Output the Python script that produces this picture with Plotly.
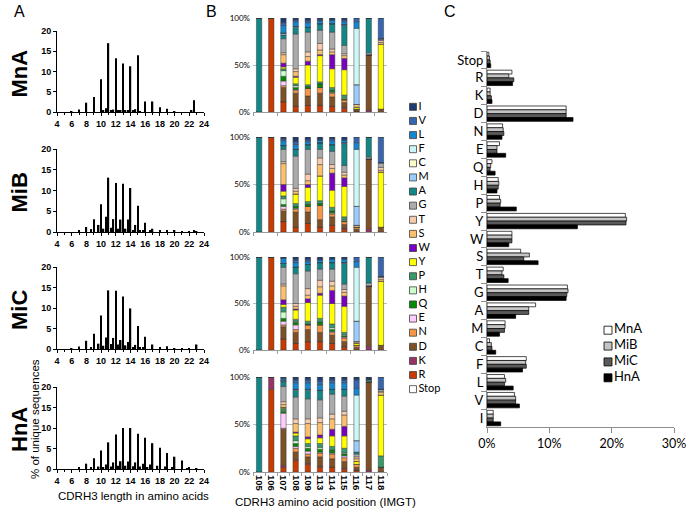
import numpy as np
import plotly.graph_objects as go

W, H = 689, 510
def px(x): return x / W
def py(y): return 1 - y / H

# ---------------- Panel A data: CDRH3 length distributions ----------------
MnA_len = [6, 7, 8, 9, 10, 10.33, 10.67, 11, 11.33, 11.67, 12, 12.33, 12.67, 13, 13.33, 13.67,
           14, 14.33, 14.67, 15, 15.33, 16, 17, 18, 19, 20, 22.33, 22.67]
MnA_pct = [0.2, 0.6, 2.3, 3.7, 8.1, 0.3, 0.9, 17.0, 0.4, 0.6, 13.3, 0.3, 0.4, 12.0, 0.3, 0.4,
           11.3, 0.3, 0.7, 14.0, 0.2, 2.6, 2.6, 1.2, 0.8, 0.2, 0.3, 2.9]
MiB_len = [7, 8, 8.67, 9, 9.67, 10, 10.33, 10.67, 11, 11.33, 11.67, 12, 12.33, 12.67, 13, 13.33, 13.67,
           14, 14.33, 14.67, 15, 15.33, 15.67, 16, 16.67, 17, 18, 19, 20, 21, 22, 22.67, 23]
MiB_pct = [0.5, 1.2, 0.7, 3.1, 1.7, 6.7, 0.8, 3.7, 13.1, 1.0, 3.1, 11.8, 0.8, 3.0, 11.6, 0.8, 3.0,
           10.6, 0.5, 1.7, 6.3, 0.3, 0.5, 2.2, 0.3, 0.8, 0.3, 0.5, 0.3, 0.2, 0.2, 0.5, 0.2]
MiC_len = [6, 7, 8, 8.67, 9, 9.67, 10, 10.33, 10.67, 11, 11.33, 11.67, 12, 12.33, 12.67, 13, 13.33, 13.67,
           14, 14.33, 14.67, 15, 15.33, 15.67, 16, 17, 18, 19, 20, 21, 22, 23]
MiC_pct = [0.2, 0.6, 2.0, 0.3, 3.7, 1.3, 8.2, 0.8, 2.8, 14.3, 1.2, 2.7, 14.2, 1.1, 2.2, 12.8, 0.9, 1.7,
           9.9, 0.5, 1.0, 5.6, 0.3, 0.4, 3.0, 1.1, 0.5, 0.7, 0.2, 0.1, 0.2, 1.1]
HnA_len = [7, 8, 8.67, 9, 9.67, 10, 10.33, 10.67, 11, 11.33, 11.67, 12, 12.33, 12.67, 13, 13.33, 13.67,
           14, 14.33, 14.67, 15, 15.33, 15.67, 16, 16.33, 16.67, 17, 17.67, 18, 18.67, 19, 19.67,
           20, 21, 21.67, 22, 23]
HnA_pct = [0.4, 1.3, 0.3, 2.6, 0.6, 4.5, 0.4, 1.1, 6.5, 0.6, 1.6, 8.4, 0.8, 1.9, 10.0, 0.8, 1.8,
           10.0, 0.7, 1.6, 8.6, 0.6, 1.3, 7.6, 0.5, 1.1, 6.3, 0.8, 5.2, 0.6, 3.9, 0.3,
           3.0, 2.1, 0.2, 0.3, 0.1]

datasets = ["MnA", "MiB", "MiC", "HnA"]
length_data = {"MnA": (MnA_len, MnA_pct), "MiB": (MiB_len, MiB_pct),
               "MiC": (MiC_len, MiC_pct), "HnA": (HnA_len, HnA_pct)}
len_ticks = [4, 6, 8, 10, 12, 14, 16, 18, 20, 22, 24]

# ---------------- Panel B data: amino acid composition per IMGT position ----------------
positions = ["105", "106", "107", "108", "109", "113", "114", "115", "116", "117", "118"]
aa_legend = ["I", "V", "L", "F", "C", "M", "A", "G", "T", "S", "W", "Y", "P", "H", "Q", "E", "N", "D", "K", "R", "Stop"]
aa_colors = {"I": "#203B70", "V": "#3766B0", "L": "#1487D0", "F": "#CCF7F7", "C": "#FFFCCC",
             "M": "#99CCFF", "A": "#138787", "G": "#ABABAB", "T": "#F8CBAD", "S": "#FAC06E",
             "W": "#7A00C0", "Y": "#FFFF00", "P": "#379A68", "H": "#CCFFCC", "Q": "#008C00",
             "E": "#FFCCFF", "N": "#F79646", "D": "#7D5026", "K": "#993366", "R": "#C83A00",
             "Stop": "#FFFFFF"}

comp_MnA = {
    "I": [0, 0, 5, 2, 3, 2, 2, 2, 0, 0, 0],
    "V": [0, 0, 3, 2, 2, 1, 0, 2, 4, 0, 22],
    "L": [0, 0, 8, 5, 5, 3, 4, 3, 7, 0, 0],
    "F": [0, 0, 0, 0, 0, 0, 0, 0, 60, 0, 0],
    "M": [0, 0, 2, 1, 0, 0, 0, 1, 21, 0, 0],
    "A": [100, 0, 4, 7, 5, 7, 9, 21, 0, 37, 0],
    "G": [0, 0, 15, 37, 21, 14, 18, 9, 0, 2, 2],
    "T": [0, 0, 2, 3, 5, 7, 3, 2, 0, 0, 2],
    "S": [0, 0, 9, 5, 5, 5, 3, 3, 3, 0, 2],
    "W": [0, 0, 4, 1, 4, 1, 15, 12, 0, 0, 0],
    "Y": [0, 0, 2, 7, 21, 28, 20, 27, 2, 0, 69],
    "P": [0, 0, 2, 2, 2, 2, 3, 3, 0, 0, 0],
    "H": [0, 0, 6, 2, 0, 0, 0, 1, 0, 0, 0],
    "Q": [0, 0, 5, 2, 2, 4, 2, 1, 0, 0, 0],
    "E": [0, 0, 5, 1, 0, 0, 1, 0, 0, 0, 0],
    "N": [0, 0, 2, 3, 8, 6, 4, 3, 0, 0, 0],
    "D": [0, 0, 15, 14, 10, 13, 10, 5, 2, 59, 3],
    "K": [0, 0, 0, 0, 0, 0, 0, 1, 0, 2, 0],
    "R": [0, 100, 11, 6, 7, 7, 6, 4, 1, 0, 0],
}
comp_MiB = {
    "I": [0, 0, 2, 5, 3, 3, 2, 3, 0, 0, 0],
    "V": [0, 0, 2, 3, 2, 0, 2, 0, 6, 0, 27],
    "L": [0, 0, 5, 5, 3, 3, 4, 3, 7, 0, 0],
    "F": [0, 0, 0, 0, 0, 0, 0, 0, 60, 0, 0],
    "M": [0, 0, 0, 0, 0, 0, 0, 1, 20, 0, 0],
    "A": [100, 0, 4, 7, 5, 7, 7, 23, 0, 21, 0],
    "G": [0, 0, 13, 34, 26, 9, 14, 7, 0, 2, 5],
    "T": [0, 0, 2, 3, 7, 7, 4, 3, 0, 0, 3],
    "S": [0, 0, 22, 3, 4, 12, 5, 3, 2, 0, 2],
    "W": [0, 0, 7, 0, 3, 0, 18, 9, 0, 0, 0],
    "Y": [0, 0, 5, 10, 15, 26, 18, 32, 0, 0, 58],
    "P": [0, 0, 3, 3, 3, 3, 4, 3, 0, 0, 0],
    "H": [0, 0, 6, 0, 0, 0, 0, 1, 0, 0, 0],
    "Q": [0, 0, 2, 2, 2, 2, 2, 1, 0, 0, 0],
    "E": [0, 0, 3, 1, 0, 0, 1, 0, 0, 0, 0],
    "N": [0, 0, 2, 3, 6, 15, 3, 3, 2, 0, 0],
    "D": [0, 0, 11, 16, 12, 8, 9, 4, 3, 74, 5],
    "K": [0, 0, 0, 0, 0, 0, 0, 1, 0, 3, 0],
    "R": [0, 100, 11, 5, 9, 5, 7, 3, 0, 0, 0],
}
comp_MiC = {
    "I": [0, 0, 1, 3, 3, 3, 2, 2, 0, 0, 0],
    "V": [0, 0, 0, 3, 2, 0, 0, 0, 5, 0, 21],
    "L": [0, 0, 6, 5, 3, 3, 4, 4, 6, 0, 0],
    "F": [0, 0, 0, 0, 0, 0, 0, 0, 58, 0, 0],
    "M": [0, 0, 0, 0, 0, 0, 0, 1, 22, 0, 0],
    "A": [100, 0, 4, 7, 7, 7, 7, 22, 0, 28, 0],
    "G": [0, 0, 18, 32, 19, 12, 13, 6, 0, 3, 1],
    "T": [0, 0, 2, 3, 7, 7, 5, 3, 0, 0, 2],
    "S": [0, 0, 15, 3, 4, 7, 5, 4, 2, 0, 2],
    "W": [0, 0, 5, 1, 4, 2, 14, 11, 0, 0, 0],
    "Y": [0, 0, 3, 10, 20, 25, 22, 28, 2, 0, 69],
    "P": [0, 0, 5, 2, 3, 4, 4, 3, 0, 0, 0],
    "H": [0, 0, 7, 1, 0, 0, 2, 1, 0, 0, 0],
    "Q": [0, 0, 3, 3, 1, 3, 2, 1, 0, 0, 0],
    "E": [0, 0, 4, 5, 0, 0, 1, 1, 0, 0, 0],
    "N": [0, 0, 2, 3, 5, 8, 3, 4, 2, 0, 0],
    "D": [0, 0, 13, 12, 13, 10, 9, 5, 3, 65, 5],
    "K": [0, 0, 0, 0, 0, 0, 0, 1, 0, 4, 0],
    "R": [0, 100, 12, 7, 9, 9, 7, 3, 0, 0, 0],
}
comp_HnA = {
    "I": [0, 0, 1, 3, 3, 4, 3, 3, 3, 2, 0],
    "V": [0, 0, 1, 3, 3, 4, 3, 3, 9, 0, 13],
    "L": [0, 0, 2, 7, 7, 6, 7, 7, 7, 0, 0],
    "F": [0, 0, 0, 0, 0, 0, 0, 0, 48, 0, 0],
    "M": [0, 0, 1, 1, 1, 0, 0, 0, 12, 0, 0],
    "A": [100, 0, 5, 7, 9, 10, 5, 7, 2, 2, 0],
    "G": [0, 0, 16, 23, 21, 19, 21, 16, 3, 1, 2],
    "T": [0, 0, 3, 5, 5, 5, 5, 4, 2, 0, 1],
    "S": [0, 0, 3, 9, 14, 13, 11, 12, 3, 0, 3],
    "W": [0, 0, 0, 1, 2, 3, 7, 10, 0, 0, 0],
    "Y": [0, 0, 1, 3, 5, 6, 11, 13, 3, 0, 64],
    "P": [0, 0, 2, 5, 3, 4, 4, 5, 0, 0, 12],
    "H": [0, 0, 1, 3, 2, 2, 0, 1, 0, 0, 0],
    "Q": [0, 0, 2, 3, 3, 3, 3, 2, 0, 0, 0],
    "E": [0, 0, 16, 2, 3, 1, 1, 2, 0, 0, 0],
    "N": [0, 0, 1, 4, 3, 4, 5, 4, 3, 0, 0],
    "D": [0, 0, 38, 8, 7, 10, 9, 7, 3, 93, 5],
    "K": [0, 13, 2, 1, 1, 1, 0, 1, 0, 2, 0],
    "R": [0, 87, 5, 12, 8, 5, 5, 3, 2, 0, 0],
}
composition = {"MnA": comp_MnA, "MiB": comp_MiB, "MiC": comp_MiC, "HnA": comp_HnA}

# ---------------- Panel C data: overall amino acid usage (%) ----------------
aa_c = ["Stop", "R", "K", "D", "N", "E", "Q", "H", "P", "Y", "W", "S", "T", "G", "A", "M", "C", "F", "L", "V", "I"]
usage_MnA = [0.3, 4.0, 0.5, 12.7, 2.5, 2.0, 0.8, 1.8, 2.0, 22.2, 4.0, 5.4, 2.6, 12.9, 7.8, 2.9, 0.4, 6.3, 2.8, 4.4, 1.0]
usage_MiB = [0.4, 3.5, 0.5, 12.7, 2.6, 1.6, 0.6, 1.9, 2.2, 22.4, 4.0, 6.8, 2.4, 13.0, 6.7, 2.9, 0.7, 6.2, 3.0, 4.6, 1.0]
usage_MiC = [0.5, 4.3, 0.7, 12.7, 2.7, 1.6, 0.5, 1.8, 2.1, 22.3, 4.0, 5.9, 2.7, 12.8, 6.7, 2.8, 0.8, 6.3, 2.8, 4.6, 1.0]
usage_HnA = [0.6, 4.1, 0.8, 13.8, 2.4, 3.0, 1.3, 1.6, 4.7, 14.5, 3.5, 8.2, 3.4, 12.7, 4.6, 2.0, 1.4, 5.7, 4.2, 5.2, 2.2]
usage = {"MnA": usage_MnA, "MiB": usage_MiB, "MiC": usage_MiC, "HnA": usage_HnA}
usage_colors = {"MnA": "#FFFFFF", "MiB": "#C4C4C4", "MiC": "#5A5A5A", "HnA": "#000000"}

# ---------------- layout geometry (pixels) ----------------
A_x = (57, 204)
A_rows = [(31, 112), (149, 232), (267, 349), (387, 469)]
B_x = (253, 387)
B_rows = [(18, 112), (137, 232), (257, 350), (377, 472)]
C_x = (487, 674)
C_y = (51, 427)

fig = go.Figure()
layout = dict(width=W, height=H, margin=dict(l=0, r=0, t=0, b=0, autoexpand=False),
              template="none",
              paper_bgcolor="white", plot_bgcolor="rgba(0,0,0,0)", showlegend=False,
              barmode="group", bargap=0.14, bargroupgap=0.0,
              font=dict(family="Liberation Sans", color="black"))
annotations = []

FA = "Liberation Sans"
FB = "Lato"

def note(text, x, y, size, angle=0, weight="normal", family=FA):
    annotations.append(dict(text=text, x=px(x), y=py(y), xref="paper", yref="paper", showarrow=False,
                            xanchor="center", yanchor="middle", textangle=angle,
                            font=dict(family=family, size=size, weight=weight)))

# Panel A
for i, ds in enumerate(datasets):
    n = i + 1
    lens, pcts = length_data[ds]
    fig.add_trace(go.Bar(x=lens, y=pcts, width=0.2, marker=dict(color="black", line=dict(width=0)),
                         xaxis=f"x{n}", yaxis=f"y{n}", name=ds, hoverinfo="x+y"))
    top, bot = A_rows[i]
    layout[f"xaxis{n}"] = dict(domain=[px(A_x[0]), px(A_x[1])], anchor=f"y{n}", range=[4, 24],
                               automargin=False,
                               tickmode="array", tickvals=len_ticks, ticktext=[str(t) for t in len_ticks],
                               ticks="outside", ticklen=3, tickwidth=1, tickcolor="black",
                               minor=dict(ticks="outside", dtick=1, tick0=4, ticklen=2, tickcolor="black",
                                          showgrid=False),
                               showline=True, linecolor="black", linewidth=1, showgrid=False, zeroline=False,
                               tickfont=dict(family=FA, size=9, weight="bold"))
    layout[f"yaxis{n}"] = dict(domain=[py(bot), py(top)], anchor=f"x{n}", range=[0, 20],
                               automargin=False,
                               tickmode="array", tickvals=[0, 5, 10, 15, 20],
                               ticks="outside", ticklen=3, tickwidth=1, tickcolor="black",
                               showline=True, linecolor="black", linewidth=1, showgrid=False, zeroline=False,
                               tickfont=dict(family=FA, size=9, weight="bold"))
    note(ds, 19, (top + bot) / 2 + 2, 22, angle=-90, weight="bold")

note("% of unique sequences", 35, 419, 11.5, angle=-90)
note("CDRH3 length in amino acids", 133, 496, 11.5)

# Panel B
stack_order = aa_legend[::-1]
for i, ds in enumerate(datasets):
    n = 5 + i
    comp = composition[ds]
    table = np.array([comp.get(aa, [0] * len(positions)) for aa in stack_order], dtype=float)
    table = table / table.sum(axis=0, keepdims=True) * 100
    bases = np.vstack([np.zeros(len(positions)), np.cumsum(table, axis=0)[:-1]])
    for k, aa in enumerate(stack_order):
        fig.add_trace(go.Bar(x=positions, y=table[k], base=bases[k], offsetgroup=f"b{i}", width=0.44,
                             marker=dict(color=aa_colors[aa], line=dict(color="#3a3a3a", width=0.5)),
                             xaxis=f"x{n}", yaxis=f"y{n}", name=aa, hoverinfo="name+y"))
    top, bot = B_rows[i]
    layout[f"xaxis{n}"] = dict(domain=[px(B_x[0]), px(B_x[1])], anchor=f"y{n}", type="category",
                               automargin=False,
                               categoryorder="array", categoryarray=positions,
                               showline=True, linecolor="#9a9a9a", linewidth=1,
                               ticks="outside", tickson="boundaries", ticklen=3, tickcolor="#9a9a9a",
                               showgrid=False, zeroline=False,
                               showticklabels=(i == 3), tickangle=90,
                               tickfont=dict(family=FA, size=9.5, weight="bold"))
    layout[f"yaxis{n}"] = dict(domain=[py(bot), py(top)], anchor=f"x{n}", range=[0, 100],
                               automargin=False,
                               tickmode="array", tickvals=[0, 50, 100], ticktext=["0%", "50%", "100%"],
                               showgrid=True, gridcolor="#BDBDBD", gridwidth=1, zeroline=False,
                               showline=False, ticks="", ticklabelstandoff=2,
                               tickfont=dict(family=FB, size=8))

note("CDRH3 amino acid position (IMGT)", 325, 502, 11.5)

# Panel B legend (drawn with a scatter on its own hidden axes)
fig.add_trace(go.Scatter(x=[8] * len(aa_legend), y=aa_legend, mode="markers+text", text=aa_legend,
                         textposition="middle right", textfont=dict(family=FB, size=11),
                         marker=dict(symbol="square", size=7, color=[aa_colors[a] for a in aa_legend],
                                     line=dict(color="#404040", width=0.8)),
                         xaxis="x10", yaxis="y10", hoverinfo="skip", cliponaxis=False))
step = 15.4
layout["xaxis10"] = dict(domain=[px(405), px(450)], anchor="y10", range=[0, 45], visible=False)
layout["yaxis10"] = dict(domain=[py(402 + step / 2), py(94 - step / 2)], anchor="x10", type="category",
                         categoryorder="array", categoryarray=aa_legend, autorange="reversed", visible=False)

# Panel C
for ds in datasets:
    fig.add_trace(go.Bar(y=aa_c, x=usage[ds], orientation="h", name=ds,
                         marker=dict(color=usage_colors[ds], line=dict(color="black", width=0.7)),
                         xaxis="x9", yaxis="y9", hoverinfo="name+x"))
layout["xaxis9"] = dict(domain=[px(C_x[0]), px(C_x[1])], anchor="y9", range=[0, 30], automargin=False,
                        tickmode="array", tickvals=[0, 10, 20, 30], ticktext=["0%", "10%", "20%", "30%"],
                        showline=True, linecolor="#8c8c8c", linewidth=1, ticks="outside", ticklen=5,
                        tickcolor="#8c8c8c", showgrid=False, zeroline=False,
                        tickfont=dict(family=FB, size=12.5))
layout["yaxis9"] = dict(domain=[py(C_y[1]), py(C_y[0])], anchor="x9", type="category", automargin=False,
                        categoryorder="array", categoryarray=aa_c, autorange="reversed",
                        showline=True, linecolor="#8c8c8c", linewidth=1, ticks="outside", ticklen=5,
                        tickson="boundaries", tickcolor="#8c8c8c", showgrid=False, zeroline=False,
                        tickfont=dict(family=FB, size=13))

# Panel C legend
fig.add_trace(go.Scatter(x=[8] * len(datasets), y=datasets, mode="markers+text", text=datasets,
                         textposition="middle right", textfont=dict(family=FB, size=13),
                         marker=dict(symbol="square", size=8, color=[usage_colors[d] for d in datasets],
                                     line=dict(color="black", width=0.8)),
                         xaxis="x11", yaxis="y11", hoverinfo="skip", cliponaxis=False))
layout["xaxis11"] = dict(domain=[px(600), px(680)], anchor="y11", range=[0, 80], visible=False)
layout["yaxis11"] = dict(domain=[py(386), py(322)], anchor="x11", type="category",
                         categoryorder="array", categoryarray=datasets, autorange="reversed", visible=False)

# Panel letters
for lab, xx in (("A", 19), ("B", 211), ("C", 450)):
    note(lab, xx, 11, 16)

layout["annotations"] = annotations
fig.update_layout(**layout)
fig.write_html("out.html", config={"displayModeBar": False},
               post_script="document.body.style.margin='0';document.body.style.overflow='hidden';")
